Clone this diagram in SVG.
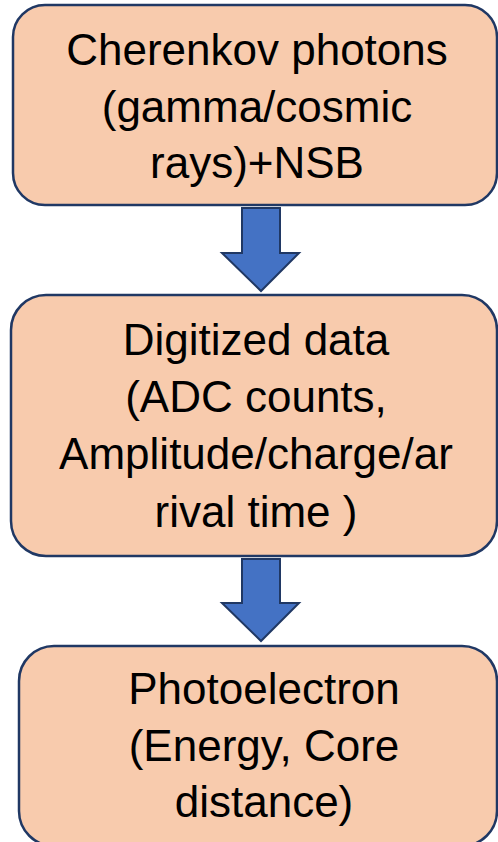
<svg xmlns="http://www.w3.org/2000/svg" width="498" height="842" viewBox="0 0 498 842">
<style>
.box{fill:#F8CBAD;stroke:#203864;stroke-width:2.5}
.arr{fill:#4472C4;stroke:#203864;stroke-width:2;stroke-linejoin:miter}
.t{font-family:"Liberation Sans","Open Sans",Arial,sans-serif;font-size:44px;fill:#000;text-anchor:middle}
</style>
<rect width="498" height="842" fill="#FFFFFF"/>
<g id="node1">
<rect class="box" x="13" y="5" width="484" height="200" rx="32" ry="32"/>
<text class="t" x="257" y="65">Cherenkov photons</text>
<text class="t" x="257" y="122">(gamma/cosmic</text>
<text class="t" x="257" y="178">rays)+NSB</text>
</g>
<g id="node2">
<rect class="box" x="11" y="295" width="486" height="261" rx="35" ry="35"/>
<text class="t" x="256" y="355">Digitized data</text>
<text class="t" x="256" y="412">(ADC counts,</text>
<text class="t" x="256" y="469">Amplitude/charge/ar</text>
<text class="t" x="256" y="527">rival time )</text>
</g>
<g id="node3">
<rect class="box" x="19" y="646" width="478" height="200" rx="35" ry="35"/>
<text class="t" x="264" y="704">Photoelectron</text>
<text class="t" x="264" y="761">(Energy, Core</text>
<text class="t" x="264" y="817">distance)</text>
</g>
<g id="connectors">
<polygon class="arr" points="242,208 280,208 280,253 299,253 261,291 222,253 242,253"/>
<polygon class="arr" points="242,559 280,559 280,603 299,603 261,641 222,603 242,603"/>
</g>
</svg>
